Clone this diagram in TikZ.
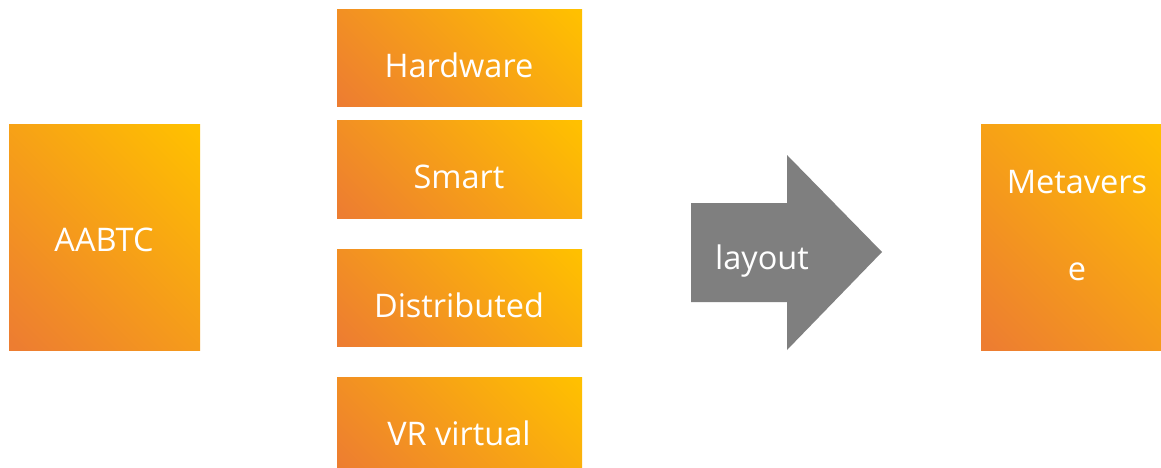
\documentclass[tikz,border=0pt]{standalone}
\usepackage{fontspec}
\setmainfont{Open Sans}
\definecolor{orangeA}{HTML}{ED7D31}
\definecolor{orangeB}{HTML}{FFC000}
\definecolor{arrowgray}{HTML}{7F7F7F}
% smooth corner-to-corner orange gradient
\pgfdeclarehorizontalshading{orangegrad}{100bp}{color(0bp)=(orangeB);
  color(16bp)=(orangeB); color(84bp)=(orangeA); color(100bp)=(orangeA)}
\begin{document}
\begin{tikzpicture}[x=1pt,y=-1pt,
  gradbox/.style={anchor=north west, inner sep=0pt, outer sep=0pt,
    shading=orangegrad, shading angle=-135, draw=none},
  boxtext/.style={anchor=base, inner sep=0pt, text=white,
    font=\fontsize{32.5}{38}\selectfont}]
\useasboundingbox (0,0) rectangle (1161,468);
\clip (0,0) rectangle (1161,468);
\fill[white] (0,0) rectangle (1161,468);

% left block
\node[gradbox, minimum width=191pt, minimum height=225pt] (aabtc) at (9,125) {};
\node[boxtext] (aabtcT) at (104,251) {AABTC};

% stacked technology blocks
\node[gradbox, minimum width=245pt, minimum height=97pt] (hw) at (337,10) {};
\node[gradbox, minimum width=245pt, minimum height=97pt] (sm) at (337,121) {};
\node[gradbox, minimum width=245pt, minimum height=97pt] (di) at (337,249) {};
\node[gradbox, minimum width=245pt, minimum height=97pt] (vr) at (337,377) {};
\node[boxtext] (hwT) at (459,78) {Hardware};
\node[boxtext] (smT) at (459,188) {Smart};
\node[boxtext] (diT) at (459,317) {Distributed};
\node[boxtext] (vrT) at (459,445) {VR virtual};

% block arrow
\fill[arrowgray] (691,203) -- (787,203) -- (787,155) -- (882,252)
  -- (787,350) -- (787,302) -- (691,302) -- cycle;
\node[boxtext] (layoutT) at (762,269) {layout};

% right block
\node[gradbox, minimum width=192pt, minimum height=225pt] (meta) at (981,125) {};
\node[boxtext] (metaT1) at (1077,193) {Metavers};
\node[boxtext] (metaT2) at (1077,280) {e};
\end{tikzpicture}
\end{document}
